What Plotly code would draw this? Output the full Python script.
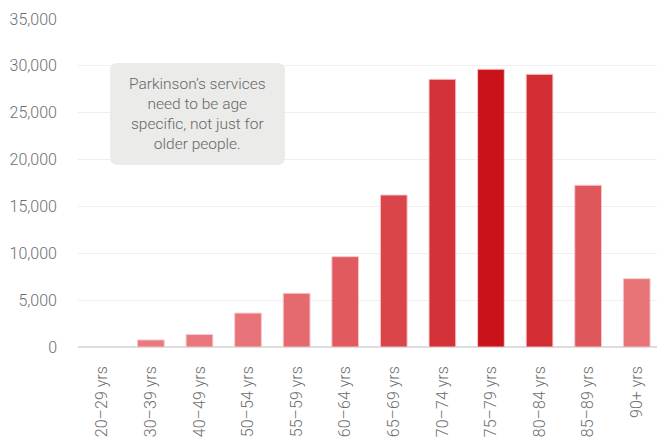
import plotly.graph_objects as go

categories = ["20–29 yrs", "30–39 yrs", "40–49 yrs", "50–54 yrs", "55–59 yrs", "60–64 yrs",
              "65–69 yrs", "70–74 yrs", "75–79 yrs", "80–84 yrs", "85–89 yrs", "90+ yrs"]
values = [0, 750, 1330, 3620, 5730, 9640, 16220, 28570, 29640, 29100, 17260, 7290]
y_ticks = [0, 5000, 10000, 15000, 20000, 25000, 30000, 35000]
y_ticklabels = ["0", "5,000", "10,000", "15,000", "20,000", "25,000", "30,000", "35,000"]
note_text = "Parkinson’s services<br>need to be age<br>specific, not just for<br>older people."

# style
bar_colors = ["#eb7b80", "#ea797e", "#e9777c", "#e8747a", "#e56a6f", "#e05a60",
              "#d94549", "#d33338", "#c91219", "#d22d32", "#df565b", "#e87377"]
outline_widths = [0 if v == 0 else 1 for v in values]

FONT = "Roboto"
W, H = 665, 443
OFF = 8  # page body offset
# target plot area in screenshot pixels: x 78..661, y 19..347
ML, MT = 78 - OFF, 19 - OFF
MR = W - (661 - OFF)
MB = H - (347 - OFF)

fig = go.Figure(go.Bar(
    x=categories, y=values,
    width=0.55,
    marker=dict(color=bar_colors,
                line=dict(color="rgba(248,200,202,0.95)", width=outline_widths)),
    hoverinfo="skip",
))

pw, ph = W - ML - MR, H - MT - MB
def px_x(p): return (p - OFF - ML) / pw
def px_y(p): return (H - MB - (p - OFF)) / ph

x0, x1 = px_x(110), px_x(285)
y0, y1 = px_y(165), px_y(63)
rx, ry = 8 / pw, 8 / ph
path = (f"M {x0+rx},{y1} L {x1-rx},{y1} Q {x1},{y1} {x1},{y1-ry} "
        f"L {x1},{y0+ry} Q {x1},{y0} {x1-rx},{y0} L {x0+rx},{y0} "
        f"Q {x0},{y0} {x0},{y0+ry} L {x0},{y1-ry} Q {x0},{y1} {x0+rx},{y1} Z")

fig.add_shape(type="path", path=path, xref="paper", yref="paper",
              fillcolor="#ebebe9", line=dict(width=0), layer="above")
fig.add_annotation(x=(x0 + x1) / 2, y=(y0 + y1) / 2, xref="paper", yref="paper",
                   xanchor="center", yanchor="middle",
                   text=note_text, showarrow=False, align="center",
                   font=dict(family=FONT, size=15.5, color="#686868", weight=300))

fig.update_layout(
    width=W, height=H,
    margin=dict(l=ML, r=MR, t=MT, b=MB, autoexpand=False),
    paper_bgcolor="white", plot_bgcolor="white",
    showlegend=False,
    font=dict(family=FONT, color="#707070", size=16, weight=300),
    xaxis=dict(tickangle=-90, showgrid=False, showline=False, ticks="", automargin=False,
               tickfont=dict(family=FONT, size=16, color="#6e6e6e", weight=300),
               ticklabelstandoff=15),
    yaxis=dict(range=[0, 35000], tickvals=y_ticks, ticktext=y_ticklabels, automargin=False,
               showgrid=True, gridcolor="#efefef", gridwidth=1,
               zeroline=True, zerolinecolor="#dddddd", zerolinewidth=1.5,
               ticks="", ticklabelstandoff=20,
               tickfont=dict(family=FONT, size=16, color="#6e6e6e", weight=300)),
)

fig.write_html("out.html")
